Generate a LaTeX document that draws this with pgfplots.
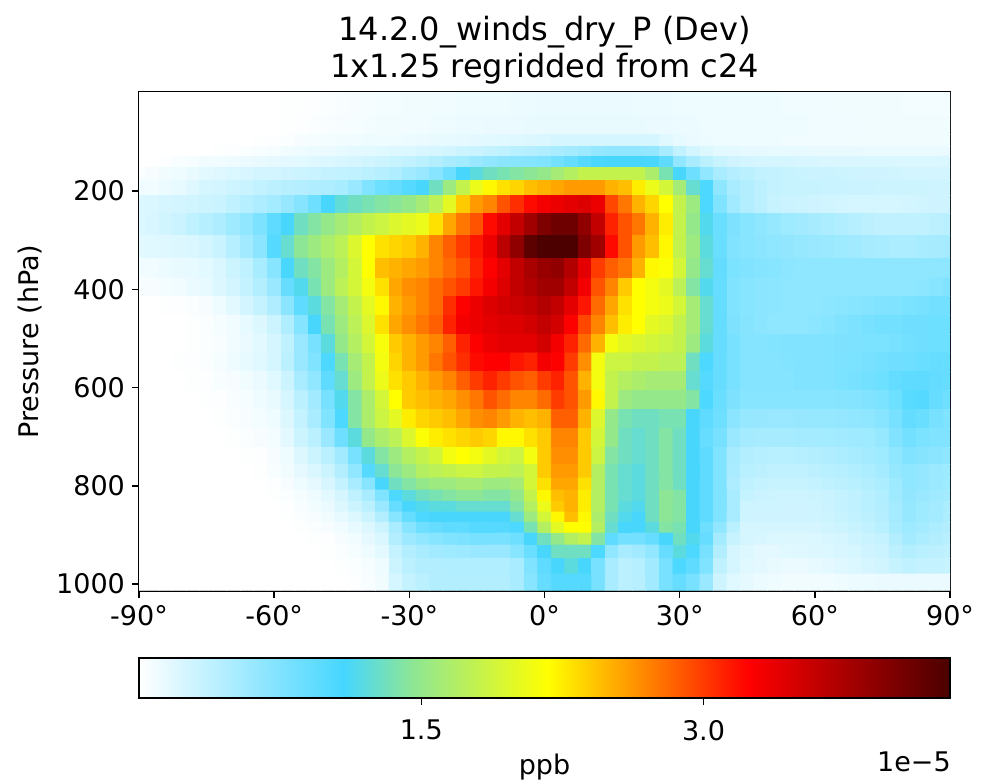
\documentclass[border=0pt]{standalone}
\usepackage{fontspec}
\setmainfont{DejaVu Sans}
\usepackage{pgfplots}
\pgfplotsset{compat=1.18,
  gcpy/.style={point meta min=0,point meta max=43.1,
  colormap={gcpy}{rgb255(0)=(255,255,255) rgb255(253)=(70,214,255) rgb255(335)=(140,230,150) rgb255(504)=(255,255,0) rgb255(628)=(255,130,0) rgb255(752)=(255,0,0) rgb255(1000)=(75,0,0)}},
  txt/.style={tick label style={font=\fontsize{13.5}{15}\selectfont},label style={font=\fontsize{13.5}{15}\selectfont}}}
\def\ylev{\ifcase\numexpr(\coordindex-30)/61\relax 21\or 70\or 100\or 119\or 139\or 163\or 192\or 226\or 267\or 314\or 359\or 395\or 434\or 473\or 511\or 548\or 587\or 625\or 664\or 703\or 741\or 772\or 796\or 821\or 843\or 864\or 884\or 908\or 933\or 963\or 996\fi}
\begin{document}
\begin{tikzpicture}[x=1pt,y=1pt]
\path[use as bounding box] (0,0) rectangle (495,391.5);
\begin{axis}[
  at={(69.5pt,96pt)},anchor=south west,
  scale only axis,width=405.5pt,height=249.5pt,
  xmin=-90,xmax=90,ymin=-1.5,ymax=1014,y dir=reverse,
  xtick={-90,-60,-30,0,30,60,90},
  xticklabels={-90°,-60°,-30°,0°,30°,60°,90°},
  ytick={200,400,600,800,1000},
  yticklabels={200,400,600,800,1000},
  xtick pos=bottom,ytick pos=left,
  tick align=outside,major tick length=3.5pt,
  tick style={black,line width=0.7pt},
  axis line style={line width=0.9pt},
  txt,
  ylabel={Pressure (hPa)},
  title={14.2.0\_winds\_dry\_P (Dev)\\1x1.25 regridded from c24},
  title style={align=center,font=\fontsize{16}{18.5}\selectfont,yshift=-5.5pt},
  gcpy,
]
\addplot[matrix plot*,mesh/cols=61,point meta=explicit] table[row sep=crcr,header=false,
  x expr={-90+3*mod(\coordindex,61)},
  y expr={\ylev},
  meta index=0] {
0\\0\\0\\0\\0\\0\\0\\0\\0\\0\\
0\\.1\\.1\\.2\\.3\\.4\\.5\\.6\\.7\\.7\\
.8\\.8\\.9\\.9\\1\\1\\1\\1\\1.1\\1.1\\
1.2\\1.2\\1.2\\1.2\\1.2\\1.2\\1.2\\1.1\\1.1\\1.1\\
1\\1\\1\\1\\1\\1\\1\\1\\.9\\.9\\
.9\\.9\\.8\\.8\\.8\\.8\\.8\\.7\\.7\\.7\\
.7\\
0\\0\\0\\0\\0\\0\\0\\0\\0\\0\\
0\\.1\\.2\\.3\\.4\\.5\\.6\\.7\\.8\\.8\\
.9\\.9\\1\\1\\1.1\\1.1\\1.2\\1.2\\1.2\\1.3\\
1.3\\1.3\\1.3\\1.3\\1.3\\1.3\\1.3\\1.3\\1.2\\1.2\\
1.1\\1.1\\1\\1\\1\\1\\1\\1\\1\\1\\
.9\\.9\\.9\\.9\\.8\\.8\\.8\\.8\\.8\\.8\\
.8\\
0\\0\\0\\0\\0\\0\\0\\0\\0\\.1\\
.2\\.3\\.5\\.6\\.7\\.8\\.9\\1\\1\\1\\
1.1\\1.2\\1.3\\1.4\\1.5\\1.6\\1.7\\1.8\\1.9\\2\\
2.2\\2.4\\2.5\\2.5\\2.5\\2.5\\2.5\\2.5\\2.4\\1.8\\
1.4\\1.2\\1.1\\1\\1\\1\\1\\1\\.9\\.9\\
.9\\.9\\.9\\.8\\.8\\.8\\.8\\.8\\.8\\.8\\
.8\\
0\\0\\0\\0\\0\\0\\.1\\.2\\.3\\.4\\
.6\\.8\\1\\1.1\\1.2\\1.4\\1.6\\1.7\\1.8\\2\\
2.1\\2.3\\2.4\\2.6\\3\\3.2\\3.5\\3.8\\4.1\\4.4\\
4.7\\5\\5.3\\5.8\\6.3\\6.5\\6.5\\6.5\\6.3\\5\\
3.6\\2.6\\2\\1.7\\1.6\\1.5\\1.5\\1.4\\1.4\\1.4\\
1.3\\1.3\\1.3\\1.3\\1.2\\1.2\\1.2\\1.2\\1.2\\1.2\\
1.2\\
0\\0\\.2\\.4\\.6\\.8\\.9\\1\\1.2\\1.3\\
1.5\\1.6\\1.7\\1.9\\2.1\\2.3\\2.5\\2.7\\3\\3.3\\
3.6\\4\\4.5\\5\\5.4\\6\\6.5\\6.8\\7\\7.2\\
7.5\\8.2\\9\\10\\10.7\\11\\11\\11\\10.7\\9.5\\
6.5\\5\\4\\3.3\\2.8\\2.6\\2.5\\2.4\\2.4\\2.3\\
2.3\\2.2\\2.2\\2.2\\2.2\\2.2\\2.2\\2.2\\2.2\\2.2\\
2.2\\
.3\\.5\\.8\\1\\1.3\\1.7\\1.9\\2.1\\2.3\\2.6\\
2.6\\2.8\\3\\3.2\\3.4\\3.6\\3.8\\4\\4.3\\4.7\\
5.5\\6\\7\\8.5\\11\\12\\13\\13.5\\14\\14.5\\
15\\16\\17\\18\\18\\18\\18\\18\\16.5\\13.5\\
11\\8.5\\6.5\\5\\4.4\\4\\3.6\\3.4\\3.3\\3.2\\
3.1\\3.1\\3\\2.9\\2.8\\2.8\\2.7\\2.6\\2.6\\2.6\\
2.6\\
.9\\.9\\1.1\\1.4\\1.9\\2.4\\2.6\\2.9\\3.2\\3.6\\
3.9\\4.2\\4.4\\4.7\\4.8\\5.1\\6\\7.5\\8.6\\9.2\\
10\\11\\13\\15.5\\18\\20.5\\22\\23\\23.5\\24.5\\
25\\25.5\\26\\26\\26\\25\\24.5\\22.5\\20.5\\19\\
16\\12.5\\10.5\\6.6\\5\\4.5\\3.9\\3.4\\3.3\\3.3\\
3.3\\3.2\\3.2\\3.1\\3.1\\3\\3\\3\\3\\2.9\\
2.9\\
2.1\\2.2\\2.4\\2.6\\2.7\\3\\3.2\\3.7\\4.3\\4.8\\
5.3\\6.1\\7.1\\8.5\\11\\12.3\\13\\13.5\\14\\14.4\\
15\\16\\17.5\\20\\24\\26\\27\\29\\30.5\\32\\
33\\33.5\\34\\34.5\\33.5\\29.5\\27.5\\25\\23.5\\21.7\\
18\\15.5\\10.5\\7.5\\5.5\\4.5\\3.9\\3.3\\3.1\\3\\
2.8\\2.7\\2.6\\2.5\\2.5\\2.5\\2.5\\2.6\\2.7\\2.8\\
2.9\\
2.1\\2.3\\2.7\\3.1\\3.8\\4.3\\4.8\\5.6\\6.5\\7.7\\
9.5\\11\\13\\14\\15\\16\\17\\18\\18.5\\19.5\\
20\\20.5\\23\\25.5\\27.5\\29\\32\\34\\36\\38\\
40\\41\\41\\39\\36\\31\\29\\27.5\\25\\22.5\\
18\\15\\11.5\\8.8\\7.6\\7\\6.6\\6.2\\5.7\\5.5\\
5.2\\4.9\\4.6\\4.3\\3.9\\3.8\\3.7\\3.7\\3.8\\3.9\\
4.1\\
1.7\\1.8\\1.9\\2\\2.2\\2.6\\3.2\\4.3\\5.5\\6.8\\
10\\12.5\\14.5\\15.5\\16.5\\17.5\\19.5\\21.7\\23\\23.5\\
24\\25\\27\\28.5\\30\\31.5\\33.5\\36.5\\39\\42\\
43\\43\\43\\40\\38\\32\\29\\26\\24.5\\22\\
18\\15.5\\12\\8.8\\7.4\\7\\6.8\\6.6\\6.4\\6.2\\
6\\5.9\\5.7\\5.5\\5.2\\5.1\\4.9\\4.9\\5.1\\5.2\\
5.3\\
.9\\.9\\1.1\\1.3\\1.4\\1.7\\2.2\\3\\3.8\\5.1\\
7\\11\\13\\14\\15.5\\17\\19\\21.7\\24.5\\25\\
25.5\\26\\27\\28\\29\\31\\32.5\\34\\36\\37.5\\
38.5\\39\\37\\34\\30\\28.5\\27.5\\25\\22\\21.5\\
19\\15\\12.5\\9.2\\7.8\\7.4\\7.2\\7\\6.7\\6.6\\
6.6\\6.6\\6.6\\6.6\\6.6\\6.6\\6.6\\6.6\\6.6\\6.6\\
6.6\\
.4\\.5\\.7\\.9\\1.2\\1.4\\2\\2.6\\3.4\\4.5\\
6\\9\\11.5\\13.5\\15.5\\17.5\\19\\21\\23\\25.5\\
26.5\\27\\28\\29\\30\\31.5\\33\\34.5\\36\\37\\
38\\38\\36\\33\\29\\27\\24\\21.7\\21\\20\\
17.5\\14\\11.5\\9\\7.5\\7\\6.8\\6.7\\6.6\\6.6\\
6.6\\6.6\\6.6\\6.6\\6.6\\6.6\\6.6\\6.6\\6.7\\7\\
7.4\\
0\\0\\.1\\.2\\.3\\.5\\1\\1.7\\2.6\\3.4\\
4.7\\6.8\\9.5\\12\\14\\16\\18\\20\\22\\25\\
26\\27\\28\\30.5\\32.5\\33.5\\34.5\\35\\35.5\\36\\
37\\36\\34\\31.5\\28\\25.5\\23\\21.7\\21\\20.5\\
19\\16\\12.5\\9\\7.5\\7\\6.8\\6.7\\6.6\\6.6\\
6.6\\6.7\\6.9\\7\\7.2\\7.4\\7.5\\7.8\\8\\8.2\\
8.2\\
0\\0\\0\\0\\.1\\.3\\.6\\.9\\1.4\\2\\
3\\4.7\\7.2\\11\\13.5\\15.5\\17.5\\19.5\\23\\25.5\\
26.5\\27.5\\28.5\\31\\33\\33.5\\34\\34.5\\34.5\\35\\
36\\35\\32.5\\29.5\\27\\24.5\\22.5\\21.7\\20\\19.5\\
18\\16\\12.5\\9\\7.6\\7.1\\6.8\\6.6\\6.6\\6.6\\
6.7\\7\\7.4\\7.7\\8\\8.2\\8.2\\8.4\\8.4\\8.6\\
8.6\\
0\\0\\0\\0\\.1\\.3\\.4\\.9\\1.2\\1.7\\
2.4\\3.8\\6\\8\\12\\15\\17\\19\\21.2\\24\\
25\\26\\27\\28.5\\31\\32.5\\33.5\\34\\34\\34\\
35\\33\\31\\28\\25\\21\\20\\19.5\\19\\18.5\\
18\\15.5\\12\\9\\8\\7.2\\7.2\\7.3\\7.4\\7.4\\
7.4\\7.5\\7.6\\7.7\\7.8\\7.8\\8\\8.2\\8.4\\8.6\\
8.6\\
0\\0\\0\\.1\\.2\\.3\\.6\\1\\1.4\\1.8\\
2.4\\4\\6\\7.5\\10.5\\13.5\\16\\18\\21\\23.5\\
25\\26\\27.5\\29\\30.5\\32\\32.4\\32.4\\31.5\\31\\
33\\32.5\\30\\26.5\\21\\18.5\\18.5\\18\\18\\17.5\\
17.5\\13\\10.5\\9\\8\\7.2\\7.2\\7.2\\7.3\\7.4\\
7.4\\7.5\\7.7\\7.8\\8\\8.2\\8.4\\8.5\\8.8\\9\\
9\\
0\\0\\0\\0\\.1\\.2\\.4\\.5\\.8\\1.2\\
1.8\\3\\5\\6.5\\9.5\\12.5\\15.5\\18\\20.5\\23\\
24\\25\\26\\27\\28.5\\30\\31\\30\\29\\28.5\\
30\\31\\29\\25\\21\\18\\17\\16.5\\16\\16\\
16\\12.5\\10\\9\\8\\7.2\\7.2\\7.2\\7.2\\7.4\\
7.4\\7.5\\7.8\\8\\8.2\\8.6\\9.2\\9.5\\9.5\\9.2\\
9\\
0\\0\\0\\0\\0\\.1\\.2\\.4\\.6\\1\\
1.3\\2.5\\4\\5.5\\8\\11.5\\14\\16.5\\19\\21.7\\
24\\24.5\\25\\25.5\\26.5\\27.5\\29\\28\\27\\27\\
28\\30\\29\\26\\22\\18\\15.5\\15\\15\\15\\
15\\14\\10.5\\8.8\\7.6\\7\\7\\7\\7\\7\\
7\\7\\7.1\\7.2\\7.4\\7.8\\8.6\\9.8\\10\\9\\
8.5\\
0\\0\\0\\0\\0\\0\\.1\\.3\\.5\\.7\\
1\\2\\3.5\\5\\7.5\\10.5\\14\\16.5\\18.5\\20\\
22.5\\23.5\\24\\24.5\\25.5\\26.5\\27\\26\\25\\24.5\\
25\\28.5\\28.5\\25\\19.5\\15\\13.5\\13\\13\\13.5\\
13.5\\11\\9.5\\8.5\\6.8\\6.2\\6.1\\6\\6\\6.1\\
6.2\\6.2\\6.3\\6.5\\6.6\\7\\8\\9.2\\8.8\\8\\
7.5\\
0\\0\\0\\0\\0\\0\\0\\.1\\.3\\.5\\
.7\\1.6\\3\\4\\6\\8.5\\12\\15\\16.5\\17.5\\
19.5\\21.5\\22.5\\23\\23.5\\24\\23.5\\22\\22\\23\\
24\\27\\27\\24\\19\\15\\13\\12.5\\13\\14\\
13\\11\\9\\8\\6\\5.3\\5.2\\5.2\\5.2\\5.3\\
5.3\\5.4\\5.5\\5.6\\5.7\\6.2\\7.4\\8.2\\7.8\\7.5\\
7.4\\
0\\0\\0\\0\\0\\0\\0\\0\\.1\\.2\\
.5\\1\\2\\3\\4\\5.5\\8\\12\\14\\15.5\\
17\\18\\19\\21\\21.7\\21\\20\\19\\18.5\\21\\
24\\26.5\\26.5\\24\\18.5\\14\\13\\12.5\\13\\14\\
13\\11\\9.5\\7.5\\5.2\\4.5\\4.3\\4.1\\4.1\\4.3\\
4.5\\4.7\\4.9\\5.1\\5.3\\5.7\\6.6\\7.4\\7.1\\6.8\\
6.6\\
0\\0\\0\\0\\0\\0\\0\\0\\0\\.1\\
.4\\.8\\1.5\\2.2\\3\\4.5\\6.5\\10\\12.5\\14.5\\
15.5\\17\\17.5\\18\\18.5\\18.5\\18\\18\\17.5\\19\\
24\\26\\26\\24\\17\\13.5\\12.5\\12\\13\\14\\
13\\11\\9.5\\7.5\\5\\4.1\\3.9\\3.8\\3.7\\3.7\\
3.9\\4.1\\4.3\\4.6\\4.9\\5.3\\6.2\\6.6\\6.3\\5.9\\
5.7\\
0\\0\\0\\0\\0\\0\\0\\0\\0\\0\\
.2\\.5\\1\\1.5\\2.3\\3.5\\5\\7\\11\\13\\
14\\15\\15.5\\15.5\\16\\16\\15.5\\15.5\\16\\19\\
23\\25.5\\25.5\\23\\17\\13.5\\12.5\\12\\13\\14\\
13\\11\\9.5\\7.5\\4.8\\3.7\\3.4\\3.3\\3.3\\3.3\\
3.4\\3.7\\3.9\\4.1\\4.5\\4.9\\5.7\\6.6\\6.3\\5.9\\
5.7\\
0\\0\\0\\0\\0\\0\\0\\0\\0\\0\\
.1\\.3\\.6\\1\\1.7\\2.5\\3.7\\5\\7.5\\10.5\\
12\\13\\13.5\\14\\14.5\\14.5\\14\\14\\15\\18\\
22\\24.5\\25\\22.5\\17\\13.5\\12.5\\12\\13\\14.5\\
14\\11\\9.5\\7.5\\5\\3.5\\3.1\\3\\2.9\\2.9\\
3\\3.2\\3.4\\3.8\\4.1\\4.6\\5.6\\6.4\\6\\5.6\\
5.3\\
0\\0\\0\\0\\0\\0\\0\\0\\0\\0\\
0\\.2\\.4\\.8\\1.2\\2\\3\\4\\6\\9\\
11\\11.5\\12\\12\\12.5\\12.5\\12.5\\12.5\\14\\17\\
20.5\\24\\25\\22.5\\17\\13.5\\12\\11.5\\13\\14.5\\
14\\11\\9.5\\7.5\\5\\2.9\\2.9\\2.9\\2.8\\2.8\\
2.9\\3.1\\3.4\\3.7\\4.1\\4.5\\5.3\\6.2\\5.7\\5.3\\
4.9\\
0\\0\\0\\0\\0\\0\\0\\0\\0\\0\\
0\\.1\\.3\\.5\\.8\\1.4\\2\\3\\4.5\\7\\
9\\10.5\\11\\11\\11\\11\\11\\11\\12.5\\15.5\\
19\\22\\24.5\\22\\16.5\\13\\11.5\\11\\13\\14.5\\
14\\11\\9.5\\7.5\\5\\2.9\\2.8\\2.8\\2.8\\2.8\\
2.9\\3\\3.3\\3.6\\3.9\\4.4\\5.3\\6.2\\5.7\\5.3\\
4.9\\
0\\0\\0\\0\\0\\0\\0\\0\\0\\0\\
0\\0\\.1\\.3\\.5\\.9\\1.4\\2\\3\\5\\
7\\8.5\\9\\9.5\\9.5\\10\\10\\10\\10.5\\13.5\\
17\\20\\21.7\\21.7\\17\\12.5\\11\\11\\12\\14\\
13.5\\11\\8.5\\6.5\\4\\2.5\\2.5\\2.5\\2.5\\2.5\\
2.5\\2.7\\3\\3.3\\3.6\\4.1\\5.1\\5.7\\5.3\\4.9\\
4.5\\
0\\0\\0\\0\\0\\0\\0\\0\\0\\0\\
0\\0\\0\\.1\\.2\\.5\\.9\\1.5\\2.2\\4.5\\
5.8\\6.5\\7\\7.5\\7.7\\8\\8\\8\\8.5\\11\\
13\\15\\17\\18\\14\\9.5\\8.2\\8.2\\9\\11\\
13\\11.5\\9\\5.3\\3.3\\2.5\\2.3\\2.1\\2\\2\\
2.1\\2.3\\2.5\\2.9\\3.2\\3.5\\4.5\\5.3\\4.9\\4.5\\
4.1\\
0\\0\\0\\0\\0\\0\\0\\0\\0\\0\\
0\\0\\0\\0\\.1\\.3\\.6\\1\\1.7\\3.4\\
4.5\\5\\5.5\\5.7\\5.8\\6\\6\\6\\7\\8.8\\
11\\13\\13\\13\\10.5\\6.5\\5\\5.5\\6.5\\9\\
12\\10.5\\8\\4.5\\2.5\\2\\1.6\\1.6\\1.8\\1.9\\
2\\2.1\\2.3\\2.5\\2.8\\3.1\\3.9\\4.5\\4.1\\3.9\\
3.7\\
0\\0\\0\\0\\0\\0\\0\\0\\0\\0\\
0\\0\\0\\0\\0\\.1\\.3\\.6\\1\\3\\
4\\4.5\\4.5\\4.6\\4.6\\4.6\\4.6\\4.6\\5\\7.5\\
9.5\\11\\12\\11\\8\\5\\4\\4.3\\5.5\\8\\
10.5\\9.5\\7.5\\3.7\\2.5\\1.8\\1.6\\1.3\\1.2\\1.2\\
1.4\\1.6\\1.9\\2.1\\2.5\\2.7\\3.3\\3.7\\3.5\\3.4\\
3.3\\
0\\0\\0\\0\\0\\0\\0\\0\\0\\0\\
0\\0\\0\\0\\0\\0\\.2\\.4\\.8\\2.5\\
3.5\\4\\4.5\\4.5\\4.5\\4.5\\4.5\\4.5\\5\\7\\
9\\10\\10\\10\\8\\5\\4\\4.2\\5.5\\8\\
9\\8\\6\\2.9\\1.8\\1.5\\1.1\\1\\.8\\.8\\
.8\\.9\\1\\1.1\\1.1\\1.2\\1.2\\1.2\\1.2\\1.2\\
1.2\\
};
\end{axis}
\begin{axis}[
  at={(69.5pt,42.5pt)},anchor=south west,
  scale only axis,width=405.5pt,height=20pt,
  xmin=0,xmax=43.1,ymin=0,ymax=1,
  ytick=\empty,
  xtick={15,30},xticklabels={1.5,3.0},
  xtick pos=bottom,
  tick align=outside,major tick length=3.5pt,
  tick style={black,line width=0.7pt},
  axis line style={line width=0.9pt},
  axis on top,
  txt,
  tick label style={yshift=-4pt},
  xlabel={ppb},
  xlabel style={yshift=0pt},
  gcpy,
]
\addplot[surf,shader=interp,mesh/cols=2,point meta=x] coordinates {(0,0)(43.1,0)(0,1)(43.1,1)};
\end{axis}
\node[font=\fontsize{13.5}{15}\selectfont] at (457,10.5) {1e−5};
\end{tikzpicture}
\end{document}
